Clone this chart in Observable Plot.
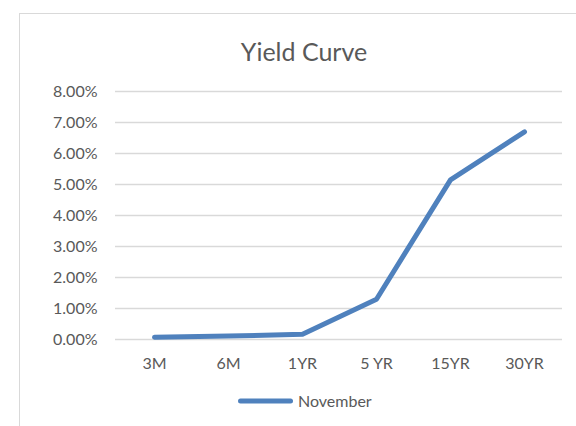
<!DOCTYPE html>
<html>
<head>
<meta charset="utf-8">
<script src="https://cdn.jsdelivr.net/npm/d3@7"></script>
<script src="https://cdn.jsdelivr.net/npm/@observablehq/plot@0.6"></script>
<style>
  html, body { margin: 0; padding: 0; background: #fff; overflow: hidden; }
  body { width: 576px; height: 426px; position: relative; font-family: Lato, "Open Sans", sans-serif; }
  #frame { position: absolute; left: 19px; top: 13px; width: 620px; height: 460px; border: 1.5px solid #d9d9d9; box-sizing: border-box; }
  #title { position: absolute; left: 0; top: 36px; width: 608px; text-align: center; font-size: 25px; color: #595959; line-height: 30px; }
  #chart { position: absolute; left: 0; top: 0; }
  #legend { position: absolute; left: 236px; top: 391px; display: flex; align-items: center; font-size: 16px; color: #595959; line-height: 19.2px; }
</style>
</head>
<body>
<div id="frame"></div>
<div id="title">Yield Curve</div>
<div id="chart"></div>
<div id="legend"></div>
<script>
const categories = ["3M", "6M", "1YR", "5 YR", "15YR", "30YR"];
const november = [0.07, 0.11, 0.17, 1.30, 5.15, 6.70];
const yTicks = [0, 1, 2, 3, 4, 5, 6, 7, 8];
const seriesName = "November";
const lineColor = "#4f81bd";

const data = categories.map((c, i) => ({term: c, value: november[i]}));

const chart = Plot.plot({
  width: 576,
  height: 380,
  marginLeft: 115,
  marginRight: 14,
  marginTop: 91,
  marginBottom: 41,
  style: {fontFamily: "Lato, 'Open Sans', sans-serif", fontSize: "16px", color: "#595959", background: "transparent"},
  x: {type: "point", domain: categories, padding: 0.5, label: null},
  y: {domain: [0, 8], label: null},
  marks: [
    Plot.ruleY(yTicks, {stroke: "#d9d9d9", strokeWidth: 1.3}),
    Plot.axisY({ticks: yTicks, tickSize: 0, tickPadding: 18, tickFormat: d => d.toFixed(2) + "%", label: null, fontSize: 16}),
    Plot.axisX({tickSize: 0, tickPadding: 18, label: null, fontSize: 16}),
    Plot.line(data, {x: "term", y: "value", stroke: lineColor, strokeWidth: 5, strokeLinecap: "round", strokeLinejoin: "round"})
  ]
});
document.getElementById("chart").appendChild(chart);

const legend = document.getElementById("legend");
legend.innerHTML = `<svg width="60" height="10" style="margin-right:2px"><line x1="4.5" y1="5" x2="54.5" y2="5" stroke="${lineColor}" stroke-width="5" stroke-linecap="round"/></svg><span>${seriesName}</span>`;
</script>
</body>
</html>
